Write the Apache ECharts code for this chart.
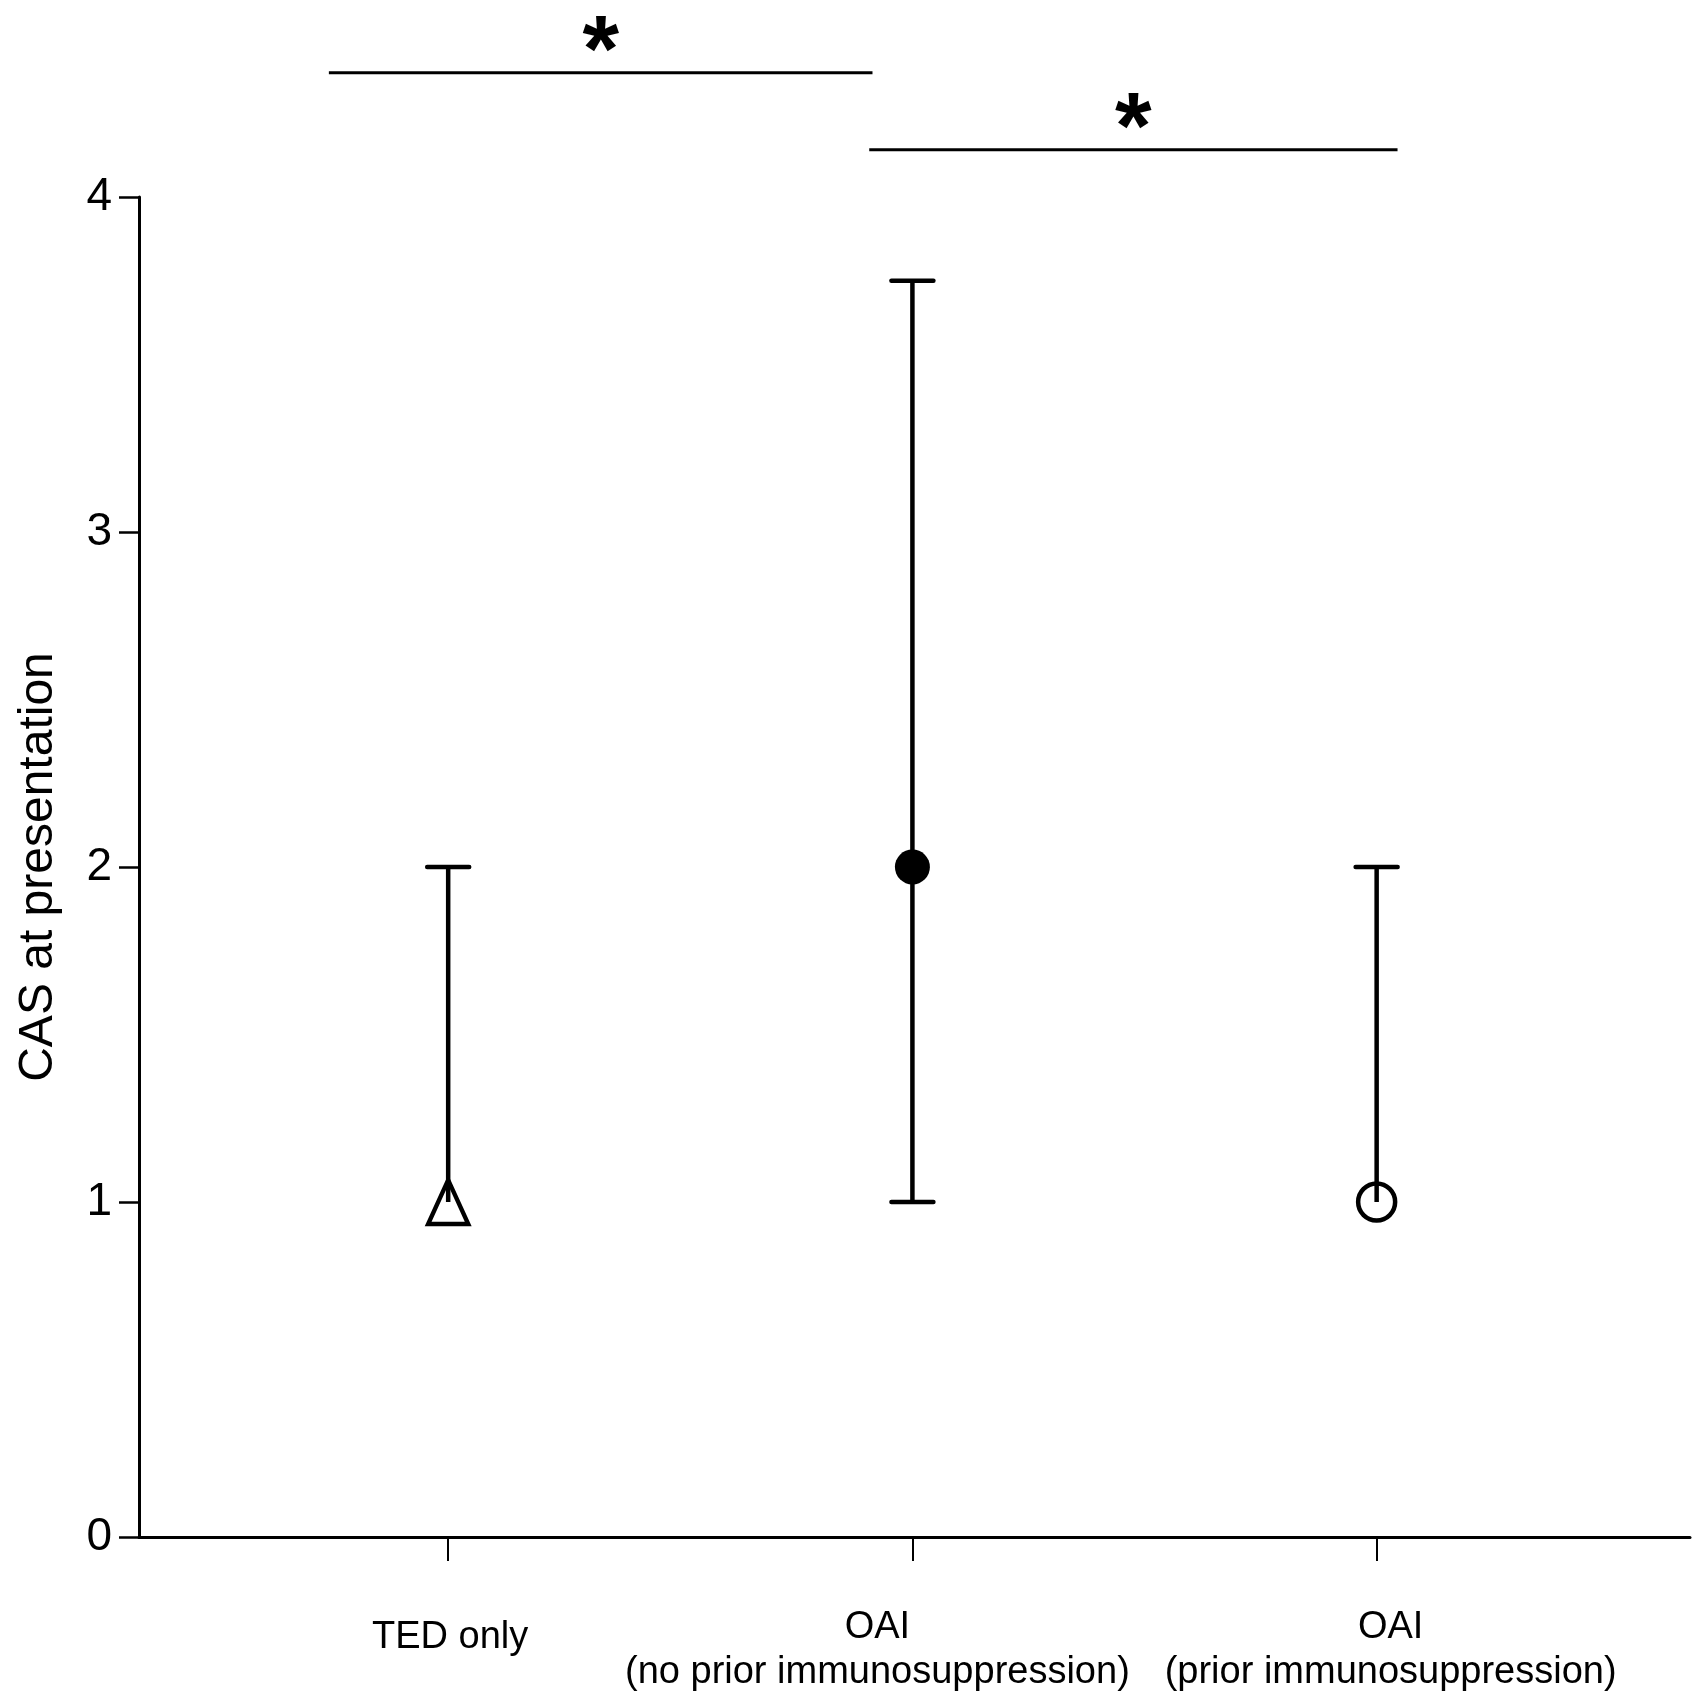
<!DOCTYPE html>
<html>
<head>
<meta charset="utf-8">
<script src="https://cdn.jsdelivr.net/npm/echarts@6/dist/echarts.min.js"></script>
<style>html,body{margin:0;padding:0;background:#fff;overflow:hidden;}#c{width:1693px;height:1693px;}</style>
</head>
<body>
<div id="c"></div>
<script>
// ---- data ----
const categories = ['TED only', 'OAI\n(no prior immunosuppression)', 'OAI\n(prior immunosuppression)'];
const categoryPos = [1, 2, 3];
const medians = [1, 2, 1];
const lowerQ = [1, 1, 1];
const upperQ = [2, 3.75, 2];
const yTicks = [0, 1, 2, 3, 4];
// significance brackets: from x, to x, y level, label
const sigFrom = [0.743, 1.907];
const sigTo = [1.914, 3.045];
const sigLevel = [4.371, 4.141];
const sigText = ['*', '*'];

// label placement tweaks (pixels): [dx, dy below axis]
const labelNudge = [[2, 78], [-35, 68], [14, 68]];

const FONT = '"Liberation Sans", Arial, Helvetica, sans-serif';
const chart = echarts.init(document.getElementById('c'));

const barData = categoryPos.map((x, i) => [x, medians[i], lowerQ[i], upperQ[i]]);
const sigData = sigFrom.map((f, i) => [f, sigTo[i], sigLevel[i], sigText[i]]);
const labelData = categoryPos.map((x, i) => [x, 0, i]);

chart.setOption({
  backgroundColor: '#fff',
  animation: false,
  grid: { left: 139, right: 3, top: 197, bottom: 156, containLabel: false, outerBoundsMode: 'none' },
  xAxis: {
    type: 'value', min: 0.334, max: 3.675,
    splitLine: { show: false },
    axisLine: { show: true, lineStyle: { color: '#000', width: 3 } },
    axisTick: { show: true, customValues: categoryPos, length: 24, lineStyle: { color: '#000', width: 2 } },
    axisLabel: { show: false, customValues: categoryPos }
  },
  yAxis: {
    type: 'value', min: 0, max: 4, interval: 1,
    name: 'CAS at presentation', nameLocation: 'middle', nameRotate: 90, nameGap: 76,
    nameTextStyle: { fontFamily: FONT, fontSize: 48, color: '#000' },
    splitLine: { show: false },
    axisLine: { show: true, lineStyle: { color: '#000', width: 3 } },
    axisTick: { show: true, length: 20, lineStyle: { color: '#000', width: 2.5 } },
    axisLabel: { margin: 27, fontFamily: FONT, fontSize: 46, color: '#000',
      formatter: v => (yTicks.indexOf(v) >= 0 ? String(v) : '') }
  },
  series: [
    {
      type: 'custom', clip: false, z: 2,
      data: barData,
      encode: { x: 0, y: [1, 2, 3] },
      renderItem: function (params, api) {
        const x = api.value(0), m = api.value(1), lo = api.value(2), hi = api.value(3);
        const pm = api.coord([x, m]), pl = api.coord([x, lo]), ph = api.coord([x, hi]);
        const half = 21;
        const st = { stroke: '#000', lineWidth: 4.5, lineCap: 'butt' };
        const cap = { stroke: '#000', lineWidth: 4.5, lineCap: 'round' };
        const children = [];
        if (hi > m) {
          children.push({ type: 'line', shape: { x1: pm[0], y1: pm[1], x2: ph[0], y2: ph[1] }, style: st });
          children.push({ type: 'line', shape: { x1: ph[0] - half, y1: ph[1], x2: ph[0] + half, y2: ph[1] }, style: cap });
        }
        if (lo < m) {
          children.push({ type: 'line', shape: { x1: pm[0], y1: pm[1], x2: pl[0], y2: pl[1] }, style: st });
          children.push({ type: 'line', shape: { x1: pl[0] - half, y1: pl[1], x2: pl[0] + half, y2: pl[1] }, style: cap });
        }
        return { type: 'group', children: children };
      }
    },
    {
      type: 'scatter', z: 3,
      itemStyle: { opacity: 1 },
      data: [
        { value: [categoryPos[0], medians[0]], symbol: 'triangle', symbolSize: [40, 44],
          itemStyle: { color: 'rgba(0,0,0,0)', borderColor: '#000', borderWidth: 4.5, opacity: 1 } },
        { value: [categoryPos[1], medians[1]], symbol: 'circle', symbolSize: 35,
          itemStyle: { color: '#000', borderColor: '#000', borderWidth: 0, opacity: 1 } },
        { value: [categoryPos[2], medians[2]], symbol: 'circle', symbolSize: 37,
          itemStyle: { color: 'rgba(0,0,0,0)', borderColor: '#000', borderWidth: 4.5, opacity: 1 } }
      ]
    },
    {
      type: 'custom', clip: false, z: 2,
      data: sigData,
      encode: { x: [0, 1], y: 2 },
      renderItem: function (params, api) {
        const a = api.coord([api.value(0), api.value(2)]);
        const b = api.coord([api.value(1), api.value(2)]);
        return { type: 'group', children: [
          { type: 'line', shape: { x1: a[0], y1: a[1], x2: b[0], y2: b[1] }, style: { stroke: '#000', lineWidth: 3 } },
          { type: 'text', x: (a[0] + b[0]) / 2, y: a[1] - 18,
            style: { text: api.value(3), fontFamily: FONT, fontWeight: 'bold', fontSize: 94, fill: '#000',
                     align: 'center', verticalAlign: 'middle' } }
        ] };
      }
    },
    {
      // category labels under the x axis
      type: 'custom', clip: false, z: 2, silent: true,
      data: labelData,
      encode: { x: 0, y: 1 },
      renderItem: function (params, api) {
        const i = api.value(2);
        const p = api.coord([api.value(0), api.value(1)]);
        return { type: 'text', x: p[0] + labelNudge[i][0], y: p[1] + labelNudge[i][1],
          style: { text: categories[i], fontFamily: FONT, fontSize: 38, lineHeight: 45, fill: '#000',
                   align: 'center', verticalAlign: 'top' } };
      }
    }
  ]
});
</script>
</body>
</html>
